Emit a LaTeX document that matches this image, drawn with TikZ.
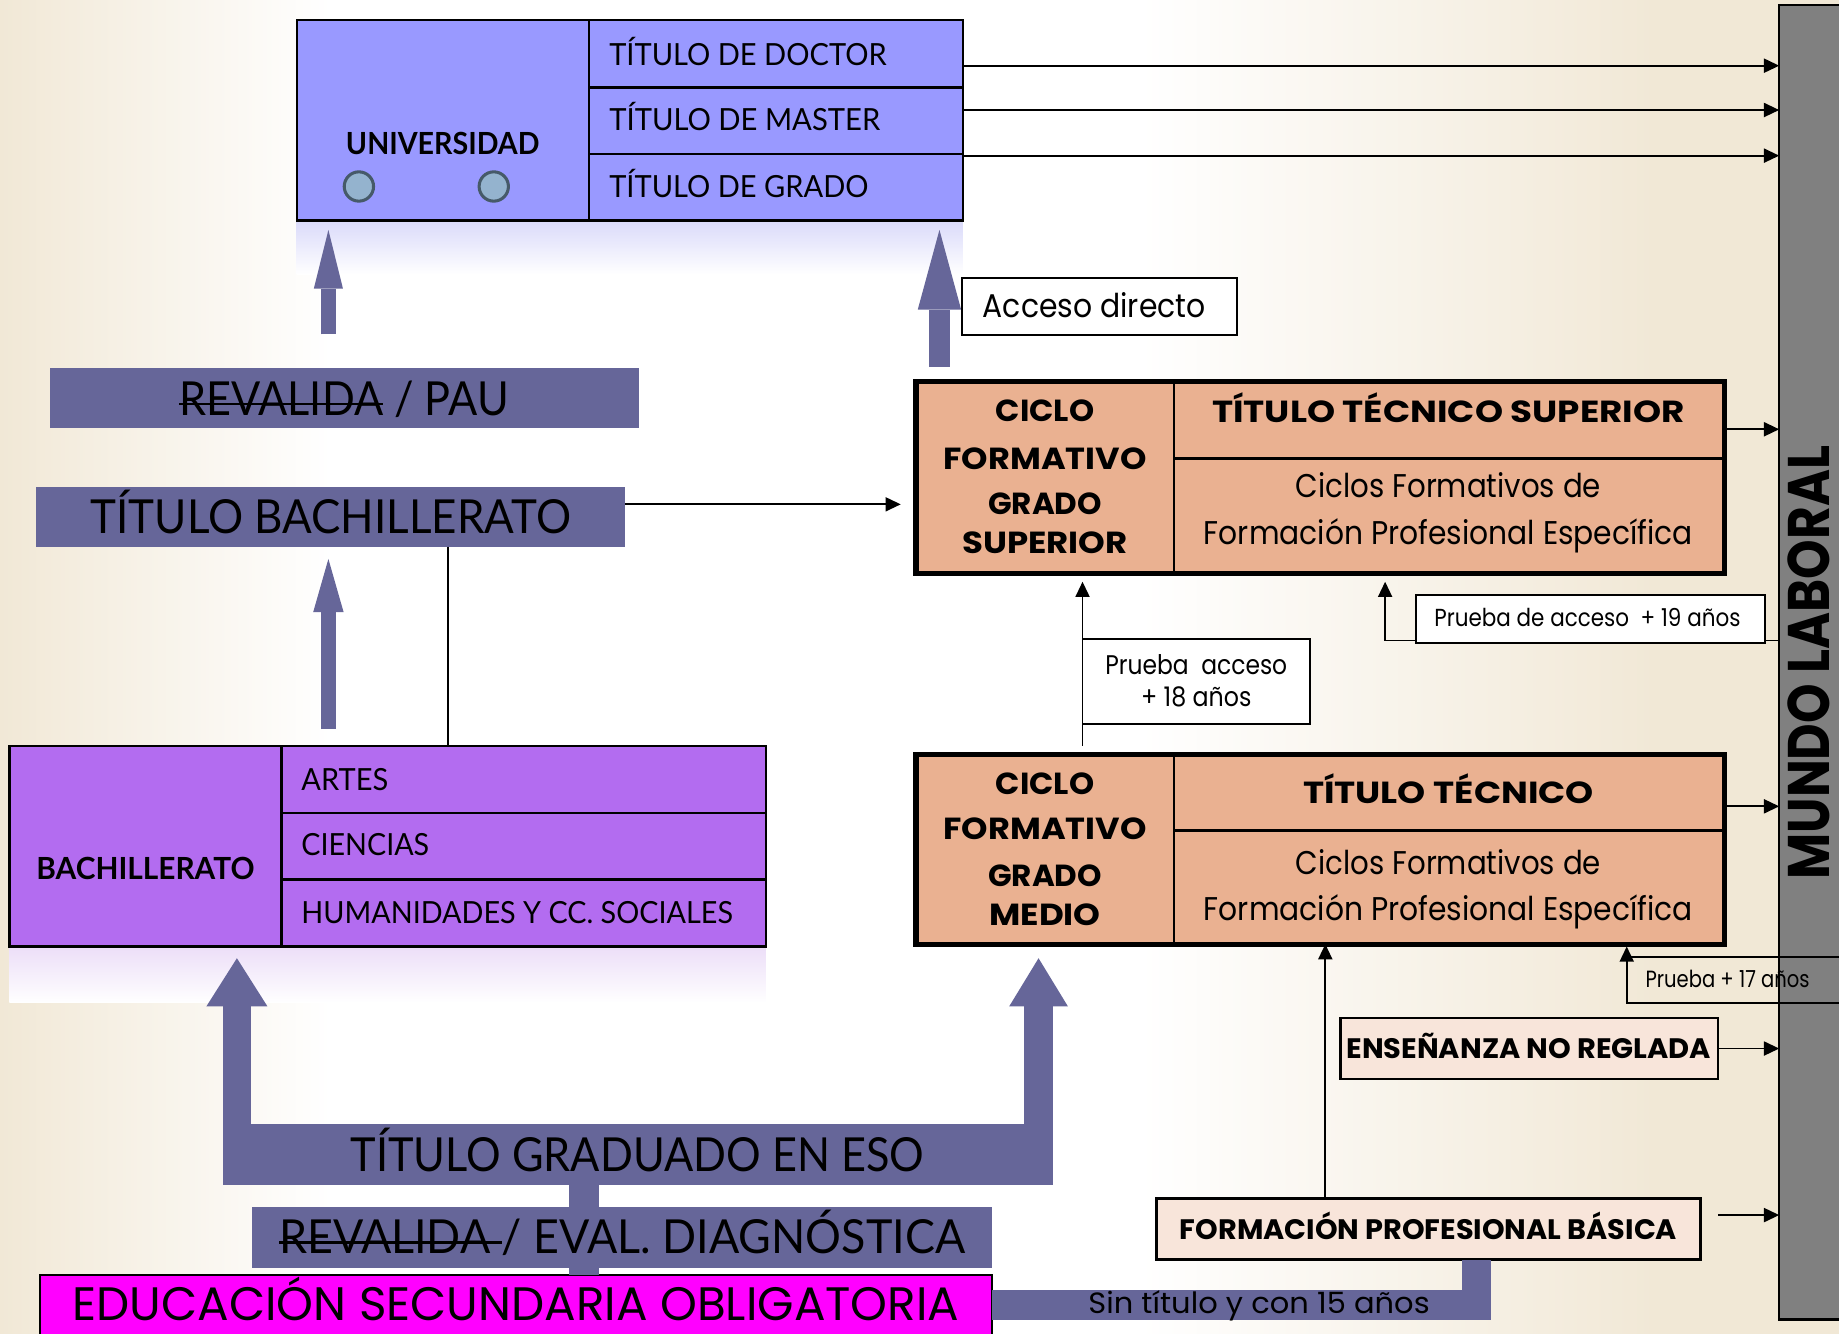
\documentclass[tikz,border=0pt]{standalone}
\usepackage{fontspec}
\usepackage{graphicx}
\usetikzlibrary{arrows.meta,fit}
\setmainfont{Lato}
\newfontfamily\nar{Lato}
\newfontfamily\com{Poppins}
\newdimen\pxu \pxu=0.5pt
\newcommand\fw[2]{\resizebox{#1\pxu}{\height}{#2}}
\newcommand\fsz[1]{\fontsize{#1}{#1}\selectfont}
\newsavebox\stbox
\newcommand\strk[1]{\sbox\stbox{#1}\rlap{\rule[0.21em]{\wd\stbox}{0.06em}}\usebox\stbox}
\definecolor{bgc}{RGB}{241,232,214}
\definecolor{univc}{RGB}{153,153,255}
\definecolor{circc}{RGB}{148,179,206}
\definecolor{circb}{RGB}{70,90,105}
\definecolor{barc}{RGB}{102,102,153}
\definecolor{bachc}{RGB}{179,108,240}
\definecolor{cfc}{RGB}{234,177,145}
\definecolor{peach}{RGB}{248,229,218}
\definecolor{mag}{RGB}{255,0,255}
\definecolor{grayc}{RGB}{128,128,128}
\definecolor{reflu}{RGB}{218,218,250}
\definecolor{reflb}{RGB}{236,222,248}
\pgfdeclarehorizontalshading{bgsh}{100bp}{color(0bp)=(bgc); color(25bp)=(bgc); color(34bp)=(white); color(56bp)=(white); color(70bp)=(bgc); color(100bp)=(bgc)}
\begin{document}
\begin{tikzpicture}[x=0.5pt,y=-0.5pt,
  tx/.style={inner sep=0pt,outer sep=0pt},
  bx/.style={inner sep=0pt,outer sep=0pt,draw=black},
  bar/.style={inner sep=0pt,outer sep=0pt,fill=barc},
  thinarr/.style={line width=0.75pt,-{Triangle[length=6.5pt,width=6pt]}},
  thinln/.style={line width=0.75pt},
]
\path[use as bounding box] (0,0) rectangle (1568,1137);
\shade[shading=bgsh] (0,0) rectangle (1568,1137);
\shade[top color=reflu,bottom color=white] (253,188) rectangle (821,234);
\shade[top color=reflb,bottom color=white] (8,807) rectangle (653,855);

% MUNDO LABORAL
\node[bx,fill=grayc,line width=1pt,fit={(1517,4)(1575,1125)}] (mundo) {};
\node[tx,rotate=90,anchor=base] (mundot) at (1560,565) {\fw{370}{\com\bfseries\fsz{25}MUNDO LABORAL}};

% UNIVERSIDAD
\node[bx,fill=univc,line width=1pt,fit={(253,17)(821,188)}] (univ) {};
\node[bx,line width=1pt,fit={(502,17)(821,74.5)}] (doctor) {};
\node[bx,line width=1pt,fit={(502,74.5)(821,131.3)}] (master) {};
\node[bx,line width=1pt,fit={(502,131.3)(821,188)}] (grado) {};
\node[tx,anchor=base] (univt) at (377.5,132) {\fw{165}{\nar\bfseries\fsz{13}UNIVERSIDAD}};
\node[circle,draw=circb,fill=circc,line width=1.3pt,minimum size=12.5pt,inner sep=0pt] (c1) at (306,159) {};
\node[circle,draw=circb,fill=circc,line width=1.3pt,minimum size=12.5pt,inner sep=0pt] (c2) at (421,159) {};
\node[tx,anchor=base west] (doctort) at (519.5,55.5) {\fw{236.5}{\nar\fsz{13}TÍTULO DE DOCTOR}};
\node[tx,anchor=base west] (mastert) at (519.5,111.5) {\fw{231}{\nar\fsz{13}TÍTULO DE MASTER}};
\node[tx,anchor=base west] (gradot) at (519.5,168) {\fw{221}{\nar\fsz{13}TÍTULO DE GRADO}};

\draw[thinarr] (univ.east |- 0,56) -- (mundo.west |- 0,56);
\draw[thinarr] (univ.east |- 0,93.8) -- (mundo.west |- 0,93.8);
\draw[thinarr] (univ.east |- 0,132.7) -- (mundo.west |- 0,132.7);

% left column
\node[bar,fit={(43,314)(545,365)}] (pau) {};
\node[tx,anchor=base] (paut) at (293.5,354) {\fw{281}{\nar\fsz{20}\strk{REVALIDA} / PAU}};
\node[bar,fit={(31,415)(533,466)}] (tbach) {};
\node[tx,anchor=base] (tbacht) at (282,455) {\fw{409.5}{\nar\fsz{20}TÍTULO BACHILLERATO}};

\coordinate (ua1s) at (280,285);
\coordinate (ua1e) at (280,196);
\draw[barc,line width=6.1pt,-{Triangle[length=25pt,width=12.4pt,line width=0pt]}] (ua1s) -- (ua1e);
\coordinate (ba1s) at (280,621.6);
\coordinate (ba1e) at (280,476.6);
\draw[barc,line width=6.7pt,-{Triangle[length=22.7pt,width=13pt,line width=0pt]}] (ba1s) -- (ba1e);

\node[bx,fill=bachc,line width=1pt,fit={(8,636)(653,807)}] (bach) {};
\node[bx,line width=1pt,fit={(240,636)(653,693)}] (artes) {};
\node[bx,line width=1pt,fit={(240,693)(653,750)}] (ciencias) {};
\node[bx,line width=1pt,fit={(240,750)(653,807)}] (human) {};
\node[tx,anchor=base] (bacht) at (124,750) {\fw{186}{\nar\bfseries\fsz{13}BACHILLERATO}};
\node[tx,anchor=base west] (artest) at (257,674) {\fw{74}{\nar\fsz{13}ARTES}};
\node[tx,anchor=base west] (cienciast) at (257,729.7) {\fw{109}{\nar\fsz{13}CIENCIAS}};
\node[tx,anchor=base west] (humant) at (257,787) {\fw{368}{\nar\fsz{13}HUMANIDADES Y CC. SOCIALES}};

\draw[thinln] (tbach.south -| 382,0) -- (bach.north -| 382,0);

% ciclos formativos
\node[bx,fill=cfc,line width=2.2pt,fit={(781,325)(1470,489)}] (cfgs) {};
\node[bx,line width=1pt,fit={(1001,325)(1470,391)}] (tts) {};
\node[bx,line width=1pt,fit={(1001,391)(1470,489)}] (cfe1) {};
\node[bx,fill=cfc,line width=2.2pt,fit={(781,643)(1470,805)}] (cfgm) {};
\node[bx,line width=1pt,fit={(1001,643)(1470,708)}] (tt) {};
\node[bx,line width=1pt,fit={(1001,708)(1470,805)}] (cfe2) {};

\node[tx,anchor=base] (s1) at (891,359) {\fw{84}{\com\bfseries\fsz{13}CICLO}};
\node[tx,anchor=base] (s2) at (891,400) {\fw{173}{\com\bfseries\fsz{13}FORMATIVO}};
\node[tx,anchor=base] (s3) at (891,439) {\fw{97}{\com\bfseries\fsz{13}GRADO}};
\node[tx,anchor=base] (s4) at (891,471.5) {\fw{141}{\com\bfseries\fsz{13}SUPERIOR}};
\node[tx,anchor=base] (s5) at (1235,360) {\fw{403}{\com\bfseries\fsz{13}TÍTULO TÉCNICO SUPERIOR}};
\node[tx,anchor=base] (s6) at (1235,424.5) {\fw{260}{\com\fsz{14}Ciclos Formativos de}};
\node[tx,anchor=base] (s7) at (1235,464) {\fw{417}{\com\fsz{14}Formación Profesional Específica}};

\node[tx,anchor=base] (m1) at (891,677) {\fw{84}{\com\bfseries\fsz{13}CICLO}};
\node[tx,anchor=base] (m2) at (891,716) {\fw{173}{\com\bfseries\fsz{13}FORMATIVO}};
\node[tx,anchor=base] (m3) at (891,755.5) {\fw{97}{\com\bfseries\fsz{13}GRADO}};
\node[tx,anchor=base] (m4) at (891,789) {\fw{95}{\com\bfseries\fsz{13}MEDIO}};
\node[tx,anchor=base] (m5) at (1235,685.5) {\fw{248}{\com\bfseries\fsz{13}TÍTULO TÉCNICO}};
\node[tx,anchor=base] (m6) at (1235,745.8) {\fw{260}{\com\fsz{14}Ciclos Formativos de}};
\node[tx,anchor=base] (m7) at (1235,785) {\fw{417}{\com\fsz{14}Formación Profesional Específica}};

\draw[thinarr,shorten >=6.5pt] (tbach.east |- 0,430) -- (cfgs.west |- 0,430);
\draw[thinarr] (cfgs.east |- 0,366) -- (mundo.west |- 0,366);
\draw[thinarr] (cfgm.east |- 0,687.5) -- (mundo.west |- 0,687.5);

% acceso directo and big arrow
\coordinate (ua2s) at (801,312.6);
\coordinate (ua2e) at (801,196);
\draw[barc,line width=9.15pt,-{Triangle[length=34pt,width=18.5pt,line width=0pt]}] (ua2s) -- (ua2e);
\node[bx,fill=white,line width=0.75pt,fit={(820,236.7)(1055,285.6)}] (acc) {};
\node[tx,anchor=base] (acct) at (933,271) {\fw{190}{\com\fsz{14}Acceso directo}};

% pruebas
\draw[thinarr,shorten <=3.5pt,shorten >=3.5pt] (cfgm.north -| 923,0) -- (cfgs.south -| 923,0);
\node[bx,fill=white,line width=0.75pt,fit={(923,545)(1117,617)}] (p18) {};
\node[tx,anchor=base] (p18a) at (1020,575) {\fw{155}{\com\fsz{11.5}Prueba\ \ acceso}};
\node[tx,anchor=base] (p18b) at (1020,602) {\fw{94}{\com\fsz{11.5}+ 18 años}};

\coordinate (k19) at (1181,546);
\draw[thinarr,shorten >=3.5pt] (mundo.west |- k19) -- (k19) -- (cfgs.south -| k19);
\node[bx,fill=white,line width=0.75pt,fit={(1207,507)(1505,548)}] (p19) {};
\node[tx,anchor=base] (p19t) at (1353.5,534) {\fw{261}{\com\fsz{10.5}Prueba de acceso\ \ + 19 años}};

\node[bx,line width=0.75pt,fit={(1387,816)(1580,855)}] (p17) {};
\draw[thinarr,shorten >=1pt] (p17.north west) -- (cfgm.south -| p17.north west);
\node[tx,anchor=base] (p17t) at (1473,841.8) {\fw{140}{\com\fsz{10}Prueba + 17 años}};

% enseñanza no reglada
\node[bx,fill=peach,line width=1pt,fit={(1143,868)(1465,920)}] (ens) {};
\node[tx,anchor=base] (enst) at (1303.5,902.3) {\fw{311}{\com\bfseries\fsz{12}ENSEÑANZA NO REGLADA}};
\draw[thinarr] (ens.east |- 0,894) -- (mundo.west |- 0,894);

% FP basica
\node[bx,fill=peach,line width=1pt,fit={(986,1022)(1450,1074)}] (fpb) {};
\node[tx,anchor=base] (fpbt) at (1218,1056.6) {\fw{424}{\com\bfseries\fsz{12}FORMACIÓN PROFESIONAL BÁSICA}};
\coordinate (fpbA) at (1465,1036);
\draw[thinarr] (fpbA) -- (mundo.west |- fpbA);
\draw[thinarr] (fpb.north -| 1130,0) -- (cfgm.south -| 1130,0);

% ESO
\node[bar,fit={(190,958)(898,1010)}] (grad) {};
\node[bx,fill=mag,line width=1pt,fit={(34,1087)(846,1142)}] (eso) {};
\draw[barc,line width=13pt] (grad.south -| 498,0) -- (eso.north -| 498,0);
\node[bar,fit={(215,1029)(846,1081)}] (rev) {};
\coordinate (ea1e) at (202,817);
\coordinate (ea2e) at (885.5,817);
\draw[barc,line width=12pt,-{Triangle[length=20.5pt,width=26pt,line width=0pt]}] (grad.north -| ea1e) -- (ea1e);
\draw[barc,line width=12.5pt,-{Triangle[length=20.5pt,width=25pt,line width=0pt]}] (grad.north -| ea2e) -- (ea2e);
\draw[barc,line width=12.6pt,line join=miter] (eso.east |- 0,1112.6) -- (1259,1112.6) -- (fpb.south -| 1259,0);

\node[tx,anchor=base] (gradt) at (543.5,999) {\fw{489}{\nar\fsz{20}TÍTULO GRADUADO EN ESO}};
\node[tx,anchor=base] (revt) at (530.5,1069) {\fw{585}{\nar\fsz{20}\strk{REVALIDA\ }/ EVAL. DIAGNÓSTICA}};
\node[tx,anchor=base] (esot) at (440,1126) {\fw{756}{\com\fsz{20}EDUCACIÓN SECUNDARIA OBLIGATORIA}};
\node[tx,anchor=base] (sint) at (1073.5,1120) {\fw{291}{\com\fsz{12.5}Sin título y con 15 años}};
\end{tikzpicture}
\end{document}
